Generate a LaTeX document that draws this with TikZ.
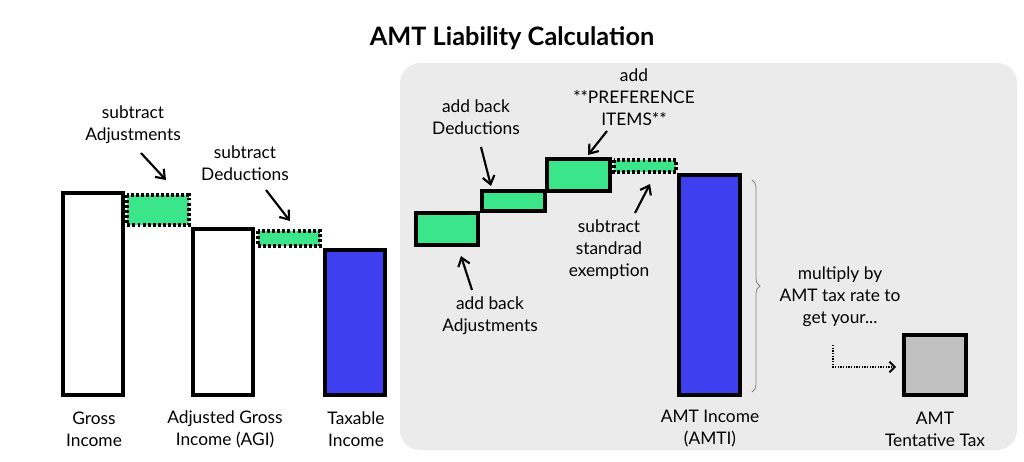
\documentclass[tikz,border=0pt]{standalone}
\usepackage{fontspec}
\setmainfont{Lato}
\usetikzlibrary{arrows.meta,decorations.pathreplacing}
\definecolor{grn}{HTML}{3BE58A}
\definecolor{blu}{HTML}{3F3FEF}
\definecolor{pan}{HTML}{EBEBEB}
\definecolor{tgray}{HTML}{C0C0C0}
\begin{document}
\begin{tikzpicture}[x=0.75pt,y=-0.75pt,
 bar/.style={draw=black,line width=3pt},
 dot/.style={draw=black,line width=3pt,dash pattern=on 2.2pt off 1.6pt,fill=grn},
 lbl/.style={font=\fontsize{13}{16.5}\selectfont,align=center},
 arr/.style={line width=1.6pt,-{Straight Barb[length=6pt,width=9pt,line width=1.6pt]}}]
\useasboundingbox (0,0) rectangle (1024,461);
\node[font=\fontsize{19}{22}\selectfont\bfseries] (title) at (512,38) {AMT Liability Calculation};
\fill[pan,rounded corners=15pt] (400,63) rectangle (1017,450);
% left
\draw[bar,fill=white] (63,193) rectangle (123,395);
\draw[dot] (127,195) rectangle (189,225);
\draw[bar,fill=white] (193,229) rectangle (253,395);
\draw[dot] (258,231) rectangle (320,246);
\draw[bar,fill=blu] (325,250) rectangle (385,395);
% right
\draw[bar,fill=grn] (416,213) rectangle (478,245);
\draw[bar,fill=grn] (482,191) rectangle (545,211);
\draw[bar,fill=grn] (547,159) rectangle (610,191);
\draw[dot] (614,160) rectangle (676,172);
\draw[bar,fill=blu] (679,175) rectangle (740,395);
\draw[bar,fill=tgray] (904,335) rectangle (966,395);
\draw[gray,line width=0.6pt,decorate,decoration={brace,amplitude=6pt}] (752,180) -- (752,392);
% labels
\node[lbl] (l1) at (94,429) {Gross\\Income};
\node[lbl] (l2) at (225,429) {Adjusted Gross\\Income (AGI)};
\node[lbl] (l3) at (356,429) {Taxable\\Income};
\node[lbl] (l4) at (710,429) {AMT Income\\(AMTI)};
\node[lbl] (l5) at (935,429) {AMT\\Tentative Tax};
\node[lbl] (t1) at (133,125) {subtract\\Adjustments};
\node[lbl] (t2) at (245,163) {subtract\\Deductions};
\node[lbl] (t3) at (476,117) {add back\\Deductions};
\node[lbl] (t4) at (634,97) {add\\**PREFERENCE\\ITEMS**};
\node[lbl] (t5) at (609,250) {subtract\\standrad\\exemption};
\node[lbl] (t6) at (490,316) {add back\\Adjustments};
\node[lbl] (t7) at (840,297) {multiply by\\AMT tax rate to\\get your...};
% arrows
\coordinate (a1s) at (141,153); \coordinate (a1e) at (166,180);
\coordinate (a2s) at (266,190); \coordinate (a2e) at (290,221);
\coordinate (a3s) at (481,147); \coordinate (a3e) at (491,186);
\coordinate (a4s) at (607,131); \coordinate (a4e) at (588,155);
\coordinate (a5s) at (635,213); \coordinate (a5e) at (650,184);
\coordinate (a6s) at (472,290); \coordinate (a6e) at (461,256);
\draw[arr] (a1s) -- (a1e);
\draw[arr] (a2s) -- (a2e);
\draw[arr] (a3s) -- (a3e);
\draw[arr] (a4s) -- (a4e);
\draw[arr] (a5s) -- (a5e);
\draw[arr] (a6s) -- (a6e);
\coordinate (d1) at (833,345); \coordinate (d2) at (833,367); \coordinate (d3) at (896,367);
\draw[line width=1.5pt,dash pattern=on 1pt off 1pt,-{Straight Barb[length=4pt,width=8pt,line width=1.4pt,sep=0pt]}] (d1) -- (d2) -- (d3);
\end{tikzpicture}
\end{document}
